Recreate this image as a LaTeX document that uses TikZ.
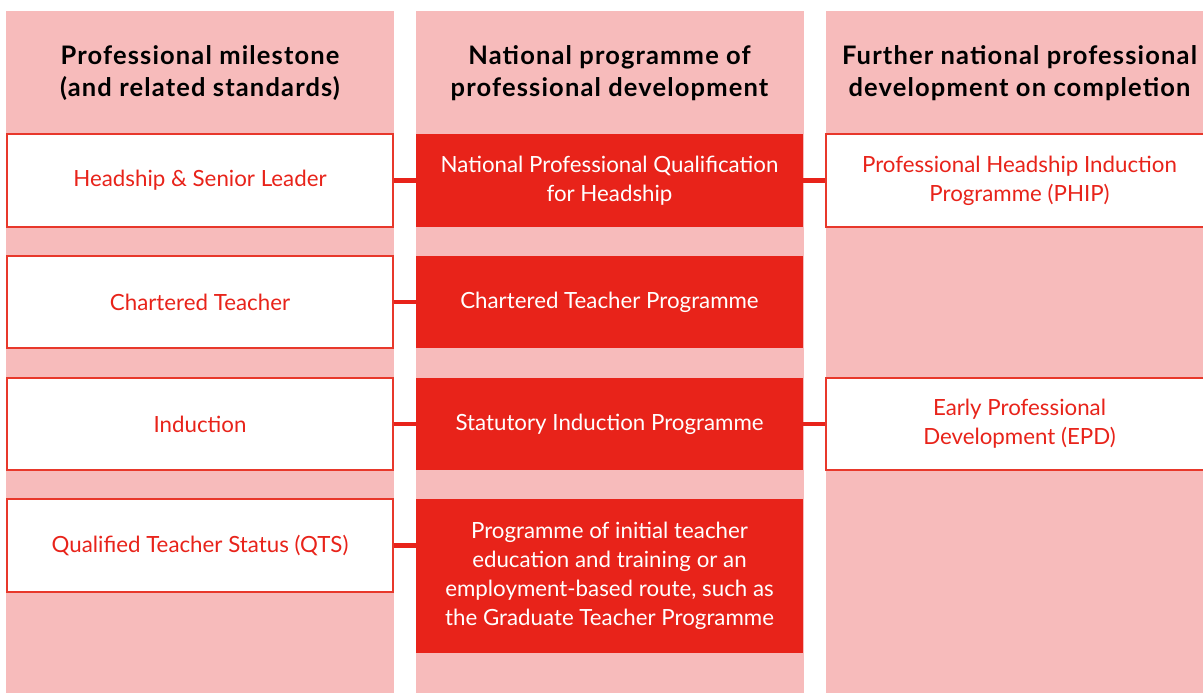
\documentclass[tikz,border=0pt]{standalone}
\usepackage{fontspec}
\setmainfont{Lato}
\newfontfamily\headfont[LetterSpace=4.5]{Lato}
\definecolor{pinkbg}{HTML}{F7BBBB}
\definecolor{redfill}{HTML}{E8231A}
\definecolor{redline}{HTML}{E8382B}
\begin{document}
\begin{tikzpicture}[x=1pt,y=-1pt,
  colbg/.style={fill=pinkbg,draw=none},
  header/.style={font=\headfont\bfseries\fontsize{25.5}{32}\selectfont,text=black,align=center,inner sep=0pt},
  milebox/.style={draw=redline,line width=1.4pt,fill=white,minimum width=386pt,inner sep=0pt,
     text=redfill,align=center,font=\fontsize{22.3}{29}\selectfont},
  progbox/.style={draw=none,fill=redfill,minimum width=387pt,inner sep=0pt,
     text=white,align=center,font=\fontsize{22.3}{29}\selectfont},
  furtherbox/.style={draw=redline,line width=1.4pt,fill=white,minimum width=387pt,inner sep=0pt,
     text=redfill,align=center,font=\fontsize{22.3}{29}\selectfont},
  conn/.style={draw=redfill,line width=4.5pt}]
\useasboundingbox (0,0) rectangle (1203,693);
\clip (0,0) rectangle (1203,693);
\fill[white] (0,0) rectangle (1203,693);
% columns
\path[colbg] (6,11) rectangle (394,693);
\path[colbg] (416,11) rectangle (803.5,693);
\path[colbg] (826,11) rectangle (1215,693);
% headers
\node[header] (h1) at (200,73) {Professional milestone\\(and related standards)};
\node[header] (h2) at (609.5,73) {National programme of\\professional development};
\node[header] (h3) at (1019.5,73) {Further national professional\\development on completion};
% milestones
\node[milebox,minimum height=93pt] (m1) at (200,180.5) {Headship \& Senior Leader};
\node[milebox,minimum height=92pt] (m2) at (200,302) {Chartered Teacher};
\node[milebox,minimum height=92pt] (m3) at (200,424) {Induction};
\node[milebox,minimum height=93pt] (m4) at (200,545.5) {Qualified Teacher Status (QTS)};
% programmes
\node[progbox,minimum height=93pt] (p1) at (609.5,180.5) {National Professional Qualification\\for Headship};
\node[progbox,minimum height=92pt] (p2) at (609.5,302) {Chartered Teacher Programme};
\node[progbox,minimum height=92pt] (p3) at (609.5,424) {Statutory Induction Programme};
\node[progbox,minimum height=154pt] (p4) at (609.5,576) {Programme of initial teacher\\education and training or an\\employment-based route, such as\\the Graduate Teacher Programme};
% further
\node[furtherbox,minimum height=93pt] (f1) at (1019.5,180.5) {Professional Headship Induction\\Programme (PHIP)};
\node[furtherbox,minimum height=92pt] (f3) at (1019.5,424) {Early Professional\\Development (EPD)};
% connectors
\draw[conn] (m1.east) -- (p1.west);
\draw[conn] (m2.east) -- (p2.west);
\draw[conn] (m3.east) -- (p3.west);
\draw[conn] (m4.east) -- (p4.west |- m4.east);
\draw[conn] (p1.east) -- (f1.west);
\draw[conn] (p3.east) -- (f3.west);
\end{tikzpicture}
\end{document}
